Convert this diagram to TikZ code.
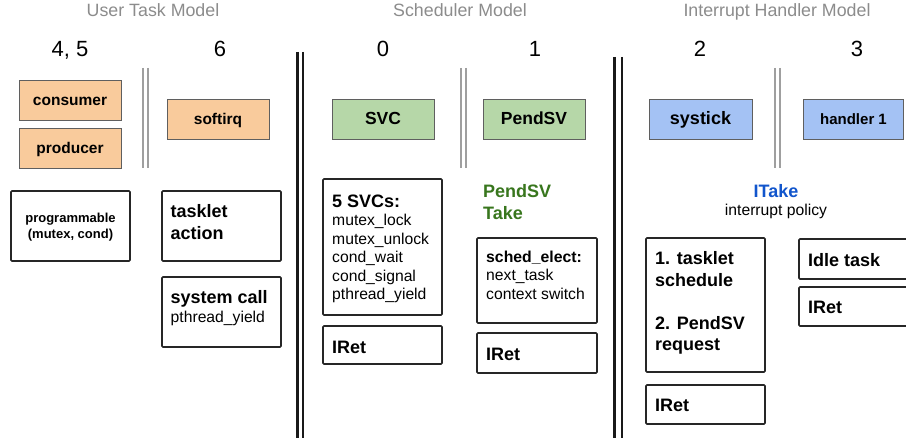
\documentclass[tikz,border=0pt]{standalone}
\usepackage{fontspec}
\setmainfont{Liberation Sans}
\definecolor{orangefill}{HTML}{F9CB9C}
\definecolor{greenfill}{HTML}{B6D7A8}
\definecolor{bluefill}{HTML}{A4C2F4}
\definecolor{boxgray}{HTML}{5F5F5F}
\definecolor{titlegray}{HTML}{8C8C8C}
\definecolor{takegreen}{HTML}{38761D}
\definecolor{takeblue}{HTML}{1155CC}
\begin{document}
\begin{tikzpicture}[x=1pt,y=-1pt,
  cbox/.style={draw=boxgray, line width=0.9pt, inner sep=0pt, outer sep=0pt, text height=12pt, text depth=0pt},
  wbox/.style={draw=black!85, line width=1.7pt, rounded corners=1pt, inner sep=0pt},
  lbl/.style={inner sep=0pt, anchor=base west},
  bigb/.style={font=\fontsize{18}{22}\selectfont\bfseries},
  regt/.style={font=\fontsize{15.7}{19}\selectfont},
  titlet/.style={inner sep=0pt, anchor=base, text=titlegray, font=\fontsize{17.8}{20}\selectfont},
  numt/.style={inner sep=0pt, anchor=base, font=\fontsize{22}{26}\selectfont},
  gline/.style={draw=gray!75, line width=1.4pt},
  kline/.style={draw=black!90, line width=2.3pt}
]
\clip (0,0) rectangle (906,438);
\fill[white] (0,0) rectangle (906,438);

% titles
\node[titlet] (tuser) at (153,16.5) {User Task Model};
\node[titlet] (tsched) at (460,16.5) {Scheduler Model};
\node[titlet] (tint) at (777,16.5) {Interrupt Handler Model};

% numbers
\node[numt] (n45) at (70,56.5) {4, 5};
\node[numt] (n6) at (220,56.5) {6};
\node[numt] (n0) at (383,56.5) {0};
\node[numt] (n1) at (535,56.5) {1};
\node[numt] (n2) at (700,56.5) {2};
\node[numt] (n3) at (857,56.5) {3};

% separators
\draw[gline] (143,68) -- (143,168);
\draw[gline] (148,68) -- (148,168);
\draw[gline] (461,68) -- (461,168);
\draw[gline] (466,68) -- (466,168);
\draw[gline] (775,68) -- (775,168);
\draw[gline] (780,68) -- (780,168);
\draw[kline] (297.5,52) -- (297.5,440);
\draw[kline] (303,52) -- (303,440);
\draw[kline] (614.5,57) -- (614.5,440);
\draw[kline] (622,57) -- (622,440);

% coloured boxes
\node[cbox, fill=orangefill, minimum width=102, minimum height=40, font=\fontsize{15.5}{18}\selectfont\bfseries] (consumer) at (70,100) {consumer};
\node[cbox, fill=orangefill, minimum width=102, minimum height=40, font=\fontsize{15.5}{18}\selectfont\bfseries] (producer) at (70,148) {producer};
\node[cbox, fill=orangefill, minimum width=102, minimum height=40, font=\fontsize{15.5}{18}\selectfont\bfseries] (softirq) at (218,119) {softirq};
\node[cbox, fill=greenfill, minimum width=102, minimum height=40, font=\fontsize{17.5}{20}\selectfont\bfseries] (svc) at (383,119) {SVC};
\node[cbox, fill=greenfill, minimum width=102, minimum height=40, font=\fontsize{17.5}{20}\selectfont\bfseries] (pendsv) at (534,119) {PendSV};
\node[cbox, fill=bluefill, minimum width=103, minimum height=40, font=\fontsize{18}{21}\selectfont\bfseries] (systick) at (700.5,119) {systick};
\node[cbox, fill=bluefill, minimum width=100, minimum height=40, font=\fontsize{15}{18}\selectfont\bfseries] (handler) at (853.5,119) {handler 1};

% white boxes
\node[wbox, minimum width=119, minimum height=70] (prog) at (70.5,226) {};
\node[wbox, minimum width=119, minimum height=70] (tasklet) at (221.5,226) {};
\node[wbox, minimum width=119, minimum height=70] (syscall) at (221.5,312) {};
\node[wbox, minimum width=119, minimum height=136] (svcs) at (382.5,247) {};
\node[wbox, minimum width=119, minimum height=38] (iret1) at (382.5,345) {};
\node[wbox, minimum width=120, minimum height=85] (elect) at (537,280.5) {};
\node[wbox, minimum width=120, minimum height=40] (iret2) at (537,353) {};
\node[wbox, minimum width=119, minimum height=134] (tsched2) at (705.5,305) {};
\node[wbox, minimum width=119, minimum height=39] (iret3) at (705.5,404.5) {};
\node[wbox, minimum width=115, minimum height=40] (idle) at (856.5,259) {};
\node[wbox, minimum width=115, minimum height=39] (iret4) at (856.5,306.5) {};

% texts
\node[inner sep=0pt, anchor=base, font=\fontsize{13}{16}\selectfont\bfseries] (p1) at (70.5,222.5) {programmable};
\node[inner sep=0pt, anchor=base, font=\fontsize{13}{16}\selectfont\bfseries] (p2) at (70.5,238.3) {(mutex, cond)};

\node[lbl, bigb] (ta1) at (170.5,217.7) {tasklet};
\node[lbl, bigb] (ta2) at (170.5,239.3) {action};
\node[lbl, bigb] (sc1) at (170.5,303.3) {system call};
\node[lbl, regt] (sc2) at (170.5,322.7) {pthread\_yield};

\node[lbl, bigb] (sv0) at (332,207.3) {5 SVCs:};
\node[lbl, regt] (sv1) at (332,225.7) {mutex\_lock};
\node[lbl, regt] (sv2) at (332,244.2) {mutex\_unlock};
\node[lbl, regt] (sv3) at (332,262.7) {cond\_wait};
\node[lbl, regt] (sv4) at (332,281.2) {cond\_signal};
\node[lbl, regt] (sv5) at (332,299.7) {pthread\_yield};
\node[lbl, bigb] (ir1) at (332,353.3) {IRet};

\node[lbl, bigb, text=takegreen] (pt1) at (483,197.3) {PendSV};
\node[lbl, bigb, text=takegreen] (pt2) at (483,219.3) {Take};
\node[lbl, font=\fontsize{15.8}{19}\selectfont\bfseries] (el1) at (486,262.7) {sched\_elect:};
\node[lbl, regt] (el2) at (486,280.9) {next\_task};
\node[lbl, regt] (el3) at (486,299.3) {context switch};
\node[lbl, bigb] (ir2) at (486,360.7) {IRet};

\node[inner sep=0pt, anchor=base, bigb, text=takeblue] (it1) at (776,197.3) {ITake};
\node[inner sep=0pt, anchor=base, regt] (it2) at (776,215.7) {interrupt policy};
\node[lbl, bigb] (ts1) at (655,265) {1. tasklet};
\node[lbl, bigb] (ts2) at (655,286.7) {schedule};
\node[lbl, bigb] (ts3) at (655,330) {2. PendSV};
\node[lbl, bigb] (ts4) at (655,351) {request};
\node[lbl, bigb] (ir3) at (655,411.7) {IRet};
\node[lbl, bigb] (id1) at (808,266.7) {Idle task};
\node[lbl, bigb] (ir4) at (808,313.3) {IRet};
\end{tikzpicture}
\end{document}
